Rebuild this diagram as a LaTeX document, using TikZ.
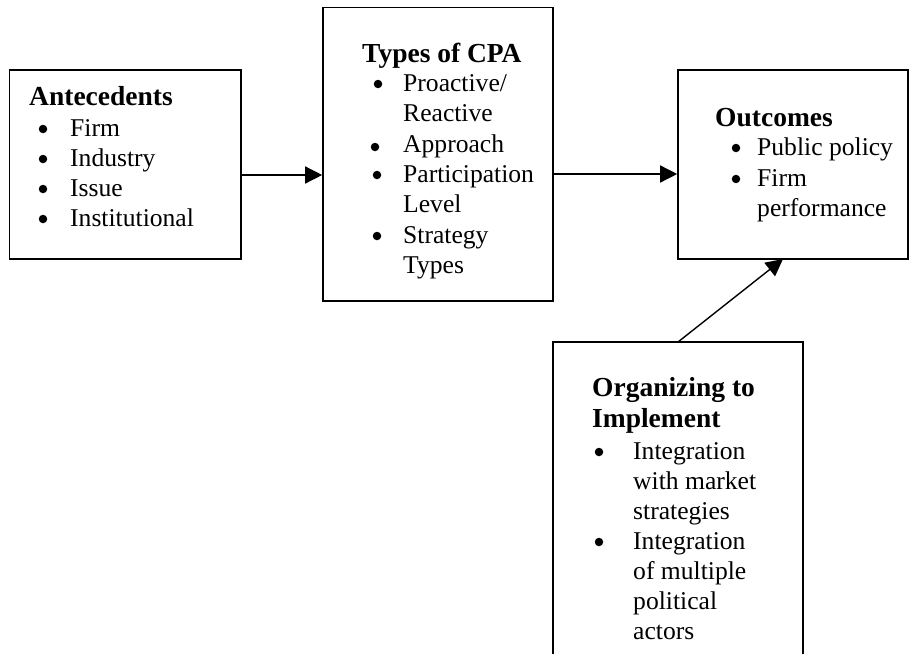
\documentclass[tikz,border=0pt]{standalone}
\usepackage{fontspec}
\setmainfont{Liberation Serif}
\usetikzlibrary{arrows.meta}
\tikzset{
  box/.style={draw, line width=1.6pt, inner sep=0pt},
  ttl/.style={anchor=base west, inner sep=0pt, font=\fontsize{27.5}{32}\selectfont\bfseries},
  itm/.style={anchor=base west, inner sep=0pt, font=\fontsize{25.6}{30}\selectfont},
  bul/.style={circle, fill, inner sep=0pt, minimum size=8.5pt},
  conn/.style={line width=1.4pt, -{Triangle[length=17pt,width=17pt]}}
}
\begin{document}
\begin{tikzpicture}[x=1pt,y=-1pt]
\clip (0,0) rectangle (920,653);
\fill[white] (0,0) rectangle (920,653);
% boxes
\node[box, minimum width=231.5pt, minimum height=189pt] (ante) at (125.25,164.5) {};
\node[box, minimum width=230pt, minimum height=293.5pt] (types) at (438,154.25) {};
\node[box, minimum width=230pt, minimum height=189pt] (outc) at (793,164.5) {};
\node[box, minimum width=250pt, minimum height=340pt] (org) at (678,512) {};
% Antecedents
\node[ttl] (a0) at (29,105) {Antecedents};
\node[bul] (ab1) at (43,129) {}; \node[itm] (a1) at (70,136) {Firm};
\node[bul] (ab2) at (43,159) {}; \node[itm] (a2) at (70,166) {Industry};
\node[bul] (ab3) at (43,189) {}; \node[itm] (a3) at (70,196) {Issue};
\node[bul] (ab4) at (43,219) {}; \node[itm] (a4) at (70,226) {Institutional};
% Types of CPA
\node[ttl] (t0) at (362,62) {Types of CPA};
\node[bul] (tb1) at (378,84) {}; \node[itm] (t1) at (403,91) {Proactive/};
\node[itm] (t2) at (403,121) {Reactive};
\node[bul] (tb3) at (375,147) {}; \node[itm] (t3) at (403,152) {Approach};
\node[bul] (tb4) at (377,175) {}; \node[itm] (t4) at (403,182) {Participation};
\node[itm] (t5) at (403,212) {Level};
\node[bul] (tb6) at (377,236) {}; \node[itm] (t6) at (403,243) {Strategy};
\node[itm] (t7) at (403,273) {Types};
% Outcomes
\node[ttl] (o0) at (715,126) {Outcomes};
\node[bul] (ob1) at (736,148) {}; \node[itm] (o1) at (757,155) {Public policy};
\node[bul] (ob2) at (736,179) {}; \node[itm] (o2) at (757,186) {Firm};
\node[itm] (o3) at (757,216) {performance};
% Organizing
\node[ttl] (g0) at (592,396) {Organizing to};
\node[ttl] (g1) at (592,427) {Implement};
\node[bul] (gb1) at (599,452) {}; \node[itm] (g2) at (633,459) {Integration};
\node[itm] (g3) at (633,489) {with market};
\node[itm] (g4) at (633,519) {strategies};
\node[bul] (gb2) at (599,542) {}; \node[itm] (g5) at (633,549) {Integration};
\node[itm] (g6) at (633,579) {of multiple};
\node[itm] (g7) at (633,609) {political};
\node[itm] (g8) at (633,639) {actors};
% connectors
\draw[conn] (ante.east |- 0,175) -- (types.west |- 0,175);
\draw[conn] (types.east |- 0,174) -- (outc.west |- 0,174);
\coordinate (gtop) at (678,342);
\coordinate (otip) at (783,259);
\draw[conn] (gtop) -- (otip);
\end{tikzpicture}
\end{document}
